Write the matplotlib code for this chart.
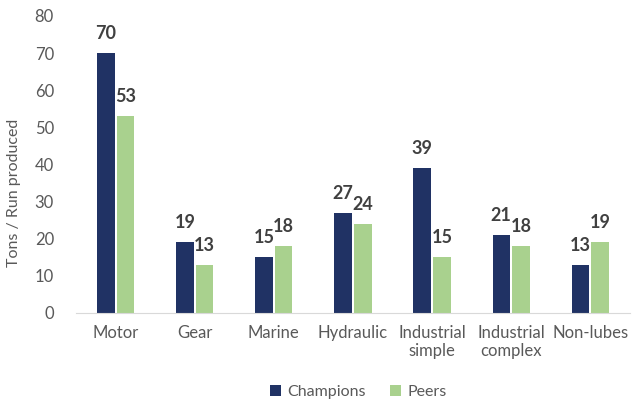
import matplotlib.pyplot as plt
import numpy as np

categories = ["Motor", "Gear", "Marine", "Hydraulic", "Industrial\nsimple", "Industrial\ncomplex", "Non-lubes"]
champions = [70, 19, 15, 27, 39, 21, 13]
peers = [53, 13, 18, 24, 15, 18, 19]
yticks = [0, 10, 20, 30, 40, 50, 60, 70, 80]

navy = "#203264"
green = "#A9D18E"
gray = "#595959"

plt.rcParams['font.family'] = ['Lato', 'DejaVu Sans']

fig = plt.figure(figsize=(6.4, 4.01), dpi=100)
ax = fig.add_axes([0.119, 0.2195, 0.865, 0.7406])

x = np.arange(len(categories))
w = 0.22
gap = 0.03
b1 = ax.bar(x - (w + gap) / 2, champions, w, color=navy, label="Champions")
b2 = ax.bar(x + (w + gap) / 2, peers, w, color=green, label="Peers")

for bars in (b1, b2):
    for r in bars:
        ax.text(r.get_x() + r.get_width() / 2, r.get_height() + 3.0, f"{int(r.get_height())}",
                ha="center", va="bottom", fontsize=13, fontweight="bold", color="#404040")

ax.set_xlim(-0.5, len(categories) - 0.5)
ax.set_ylim(0, 80)
ax.set_yticks(yticks)
ax.set_xticks(x)
ax.set_xticklabels(categories, linespacing=1.15)
ax.tick_params(axis="both", length=0, labelsize=12, colors=gray)
ax.tick_params(axis="x", pad=9)
ax.tick_params(axis="y", pad=16)
for s in ("top", "right", "left"):
    ax.spines[s].set_visible(False)
ax.spines["bottom"].set_color("#D9D9D9")
ax.set_ylabel("Tons / Run produced", fontsize=11.5, color=gray)
ax.yaxis.set_label_coords(-0.099, 0.404)

fig.legend(handles=[b1, b2], loc="center", bbox_to_anchor=(0.56, 0.022), ncol=2,
           frameon=False, fontsize=11.5, labelcolor=gray, handlelength=0.7, handleheight=0.7,
           handletextpad=0.4, columnspacing=1.5, borderpad=0)

fig.savefig("out.png", dpi=100)
